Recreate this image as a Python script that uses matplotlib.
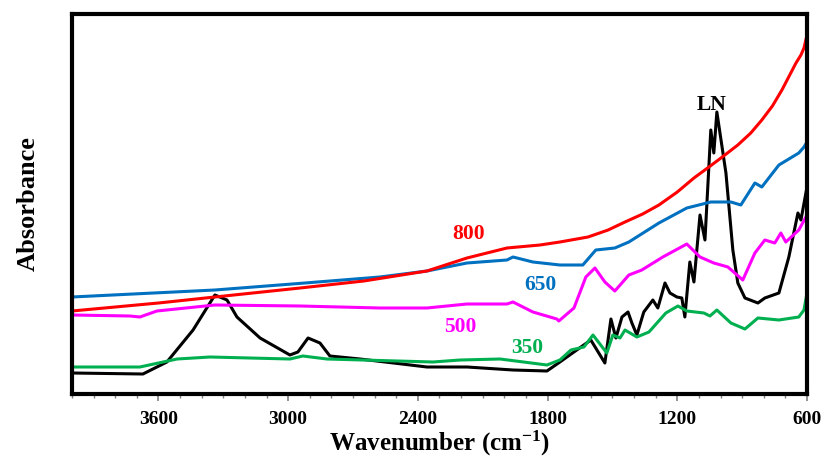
import matplotlib
matplotlib.use("Agg")
import matplotlib.pyplot as plt
from matplotlib.ticker import MultipleLocator

plt.rcParams["mathtext.fontset"] = "custom"
plt.rcParams["mathtext.rm"] = "Liberation Serif:bold"
plt.rcParams["mathtext.bf"] = "Liberation Serif:bold"
plt.rcParams["mathtext.it"] = "Liberation Serif:bold:italic"

# ---- data (wavenumber in cm-1, absorbance in arbitrary units) ----
wn_800 = [4000, 3600, 3339, 2945, 2650, 2358, 2173, 1988, 1835, 1743, 1613, 1520,
          1442, 1360, 1285, 1200, 1123, 1060, 998, 920, 860, 809, 760, 716, 651,
          628, 614, 600]
ab_800 = [83, 91, 97, 106, 113, 123, 136, 146, 149, 152, 157, 164,
          172, 180, 189, 202, 216, 226, 236, 249, 261, 274, 288, 304, 331,
          339, 346, 359]

wn_650 = [4000, 3339, 2922, 2576, 2358, 2173, 1988, 1960, 1868, 1743, 1637, 1577,
          1489, 1424, 1285, 1156, 1045, 952, 906, 841, 809, 730, 638, 614, 600]
ab_650 = [97, 104, 111, 117, 123, 131, 134, 137, 132, 129, 129, 144,
          146, 152, 171, 186, 192, 192, 189, 211, 207, 229, 241, 247, 252]

wn_500 = [4000, 3732, 3686, 3607, 3339, 2945, 2576, 2358, 2173, 1988, 1960, 1868,
          1757, 1748, 1678, 1623, 1581, 1535, 1489, 1424, 1364, 1267, 1156, 1095,
          1031, 966, 897, 841, 795, 749, 721, 698, 638, 600]
ab_500 = [79, 78, 77, 83, 89, 88, 86, 86, 90, 90, 92, 82,
          75, 73, 86, 117, 126, 112, 103, 119, 124, 137, 150, 137,
          131, 127, 114, 141, 154, 151, 161, 152, 164, 179]

wn_350 = [4000, 3686, 3514, 3362, 2992, 2932, 2821, 2330, 2205, 2020, 1803, 1743,
          1692, 1632, 1590, 1526, 1498, 1465, 1442, 1387, 1331, 1253, 1197, 1156,
          1077, 1049, 1017, 952, 887, 827, 730, 638, 614, 600]
ab_350 = [27, 27, 35, 37, 35, 38, 35, 32, 34, 35, 29, 34,
          44, 47, 59, 41, 59, 56, 64, 57, 62, 81, 88, 83,
          81, 78, 84, 71, 65, 76, 74, 77, 84, 101]

wn_ln = [4000, 3672, 3561, 3440, 3339, 3283, 3237, 3130, 2992, 2955, 2908, 2853,
         2807, 2668, 2358, 2173, 1960, 1803, 1743, 1678, 1600, 1535, 1507, 1484,
         1456, 1428, 1410, 1387, 1355, 1313, 1290, 1257, 1234, 1202, 1179, 1165,
         1142, 1123, 1095, 1072, 1045, 1031, 1017, 975, 943, 920, 887, 827, 795,
         730, 684, 642, 628, 600]
ab_ln = [21, 20, 32, 64, 99, 94, 77, 56, 39, 42, 56, 51,
         38, 35, 27, 27, 24, 23, 32, 42, 54, 31, 75, 56,
         77, 82, 71, 59, 82, 94, 86, 111, 101, 97, 96, 77,
         132, 112, 179, 154, 264, 241, 282, 221, 144, 111, 96, 91, 96,
         101, 137, 181, 174, 207]

series_labels = ["800", "650", "500", "350", "LN"]
label_pos_wn = [2164, 1835, 2205, 1895, 1039]
label_pos_ab = [160, 109, 67, 46, 289]

xticks = [3600, 3000, 2400, 1800, 1200, 600]

# ---- styling ----
colors = ["#FF0000", "#0070C0", "#FF00FF", "#00B050", "#000000"]
serif = ["Liberation Serif", "DejaVu Serif"]

fig = plt.figure(figsize=(8.24, 4.61), dpi=100)
ax = fig.add_axes([72 / 824, 67 / 461, 735 / 824, 380 / 461])

data = [(wn_800, ab_800), (wn_650, ab_650), (wn_500, ab_500), (wn_350, ab_350), (wn_ln, ab_ln)]
order = [4, 3, 2, 1, 0]
for i in order:
    x, y = data[i]
    ax.plot(x, y, color=colors[i], lw=2.2, solid_joinstyle="round")

for lab, xw, ya, c in zip(series_labels, label_pos_wn, label_pos_ab, colors):
    ax.text(xw, ya, lab, color=c, fontsize=15.5, fontweight="bold",
            family=serif, ha="center", va="center")

ax.set_xlim(4000, 600)
ax.set_ylim(0, 380)
ax.set_xticks(xticks)
ax.set_xticklabels([str(t) for t in xticks])
ax.xaxis.set_minor_locator(MultipleLocator(100))
ax.set_yticks([])

for lbl in ax.get_xticklabels():
    lbl.set_family(serif)
    lbl.set_fontweight("bold")
    lbl.set_fontsize(14)

ax.tick_params(axis="x", which="major", direction="out", length=5, width=1.2,
               color="#808080", pad=7)
ax.tick_params(axis="x", which="minor", direction="out", length=3, width=1.0,
               color="#808080")

for sp in ax.spines.values():
    sp.set_linewidth(3)
    sp.set_color("black")

ax.set_xlabel("Wavenumber (cm$^{-1}$)", family=serif, fontweight="bold",
              fontsize=18, labelpad=1)
ax.set_ylabel("Absorbance", family=serif, fontweight="bold", fontsize=19, labelpad=23)

fig.savefig("out.png", dpi=100)
